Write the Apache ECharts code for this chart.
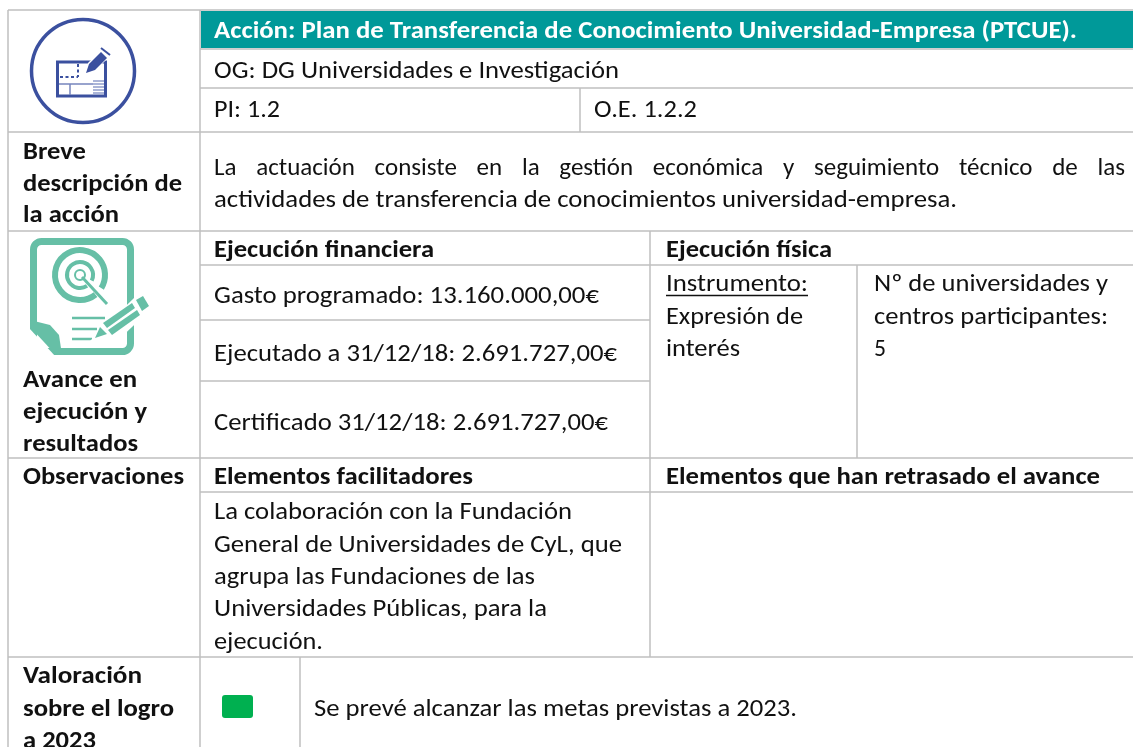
<!DOCTYPE html>
<html>
<head>
<meta charset="utf-8">
<title>Ficha de la acción</title>
<style>
  html, body { margin: 0; padding: 0; background: #fff; }
  #main { width: 1133px; height: 747px; }
</style>
<script src="https://cdn.jsdelivr.net/npm/echarts@6/dist/echarts.min.js"></script>
</head>
<body>
<div id="main"></div>
<script>
// textos de la ficha
var accion = 'Acción: Plan de Transferencia de Conocimiento Universidad-Empresa (PTCUE).';
var organo = 'OG: DG Universidades e Investigación';
var prioridad = 'PI: 1.2';
var objetivo = 'O.E. 1.2.2';
var breve = ['Breve', 'descripción de', 'la acción'];
var descripcion = [
  'La actuación consiste en la gestión económica y seguimiento técnico de las',
  'actividades de transferencia de conocimientos universidad-empresa.'
];
var avance = ['Avance en', 'ejecución y', 'resultados'];
var financiera = 'Ejecución financiera';
var gasto = [
  'Gasto programado: 13.160.000,00€',
  'Ejecutado a 31/12/18: 2.691.727,00€',
  'Certificado 31/12/18: 2.691.727,00€'
];
var fisica = 'Ejecución física';
var instrumento = ['Instrumento:', 'Expresión de', 'interés'];
var indicador = ['Nº de universidades y', 'centros participantes:', '5'];
var observaciones = 'Observaciones';
var facilitadores = 'Elementos facilitadores';
var retrasos = 'Elementos que han retrasado el avance';
var colaboracion = [
  'La colaboración con la Fundación',
  'General de Universidades de CyL, que',
  'agrupa las Fundaciones de las',
  'Universidades Públicas, para la',
  'ejecución.'
];
var valoracion = ['Valoración', 'sobre el logro', 'a 2023'];
var prevision = 'Se prevé alcanzar las metas previstas a 2023.';

var FONT = 'Carlito, Lato, sans-serif';
var SIZE = 25;
var DY = 2; // la fuente queda algo alta respecto al centro de linea
var ctx = document.createElement('canvas').getContext('2d');
var elements = [];

function fontOf(bold) {
  return (bold ? 'bold ' : '') + SIZE + 'px ' + FONT;
}

// texto de una linea, ajustado al ancho que tiene en la ficha
function txt(s, x, y, right, bold, color) {
  ctx.font = fontOf(bold);
  elements.push({
    type: 'text',
    x: x,
    y: y + DY,
    scaleX: (right - x) / ctx.measureText(s).width,
    z: 5,
    style: { text: s, x: 0, y: 0, font: fontOf(bold), fill: color || '#111', verticalAlign: 'middle', align: 'left' }
  });
}

// linea justificada: palabra a palabra
function justified(s, x, y, right) {
  ctx.font = fontOf(false);
  var words = s.split(' ');
  var total = 0;
  words.forEach(function (w) { total += ctx.measureText(w).width; });
  var gap = (right - x - total) / (words.length - 1);
  var cx = x;
  words.forEach(function (w) {
    elements.push({
      type: 'text', x: cx, y: y + DY, z: 5,
      style: { text: w, font: fontOf(false), fill: '#111', verticalAlign: 'middle', align: 'left' }
    });
    cx += ctx.measureText(w).width + gap;
  });
}

function line(x1, y1, x2, y2, color, w, z, dash) {
  elements.push({
    type: 'line', z: z || 1,
    shape: { x1: x1, y1: y1, x2: x2, y2: y2 },
    style: { stroke: color || '#bfbfbf', lineWidth: w || 1.5, lineDash: dash || null }
  });
}

function poly(points, color, z) {
  elements.push({ type: 'polygon', z: z || 4, shape: { points: points }, style: { fill: color } });
}

// cuadricula
elements.push({ type: 'rect', z: 2, shape: { x: 201, y: 11, width: 932, height: 37 }, style: { fill: '#009999' } });
[10, 132, 231, 458, 657].forEach(function (y) { line(8, y, 1133, y); });
[49, 88, 265, 492].forEach(function (y) { line(200, y, 1133, y); });
[320, 381].forEach(function (y) { line(200, y, 650, y); });
line(8, 10, 8, 747);
line(200, 10, 200, 747);
line(580, 88, 580, 132);
line(650, 231, 650, 657);
line(857, 265, 857, 458);
line(300, 657, 300, 747);

// icono azul
var azul = '#3b509f';
elements.push({ type: 'circle', z: 3, shape: { cx: 83, cy: 71, r: 51.5 }, style: { fill: 'none', stroke: azul, lineWidth: 3.5 } });
elements.push({ type: 'rect', z: 3, shape: { x: 57.5, y: 62, width: 48, height: 34 }, style: { fill: 'none', stroke: azul, lineWidth: 3 } });
line(59, 84, 93, 84, '#7685bd', 1.5, 3);
line(70, 84, 70, 95, '#7685bd', 1.5, 3);
line(60, 77, 78, 77, azul, 2, 3, [3, 2.5]);
line(78, 64, 78, 77, azul, 2, 3, [3, 2.5]);
[81, 84, 87, 90, 93].forEach(function (y) { line(93, y, 104, y, '#8f9ccb', 1.5, 3); });
poly([[85, 74], [88, 63], [102, 49], [109, 57], [96, 70]], '#fff', 3);
poly([[86, 73], [89, 64], [101, 52], [107, 58], [95, 70]], azul);
line(101, 48, 110, 55, azul, 2, 4);

// icono verde
var verde = '#66bfa6';
elements.push({
  type: 'rect', z: 3,
  shape: { x: 33.5, y: 241.5, width: 97, height: 110, r: 8 },
  style: { fill: 'none', stroke: verde, lineWidth: 7 }
});
poly([[29, 328], [29, 357], [56, 357]], '#fff', 3);
poly([[30, 320], [50, 325], [59, 335], [62, 355], [55, 354], [32, 329]], verde);
elements.push({ type: 'arc', z: 3, shape: { cx: 80, cy: 275, r: 25, startAngle: 0.9, endAngle: 0.55, clockwise: true }, style: { fill: 'none', stroke: verde, lineWidth: 6 } });
elements.push({ type: 'arc', z: 3, shape: { cx: 80, cy: 275, r: 13, startAngle: 1.0, endAngle: 0.45, clockwise: true }, style: { fill: 'none', stroke: verde, lineWidth: 4 } });
elements.push({ type: 'circle', z: 3, shape: { cx: 80, cy: 275, r: 5 }, style: { fill: 'none', stroke: verde, lineWidth: 2 } });
line(82, 277, 107, 304, verde, 3, 3);
line(72, 318, 105, 318, verde, 2.5, 3);
line(72, 329, 97, 329, verde, 2.5, 3);
line(72, 339, 92, 339, verde, 2.5, 3);
// lapiz
poly([[90, 341], [134, 298], [152, 308], [112, 346]], '#fff', 3);
poly([[95, 338], [100, 327], [107, 334]], verde);
poly([[103, 323], [132, 303], [135, 308], [107, 328]], verde);
poly([[108, 330], [137, 310], [140, 315], [112, 335]], verde);
poly([[136, 300], [143, 296], [149, 306], [142, 311]], verde);

// muestra verde de la valoracion
elements.push({ type: 'rect', z: 3, shape: { x: 222, y: 695, width: 31, height: 23, r: 3 }, style: { fill: '#00b050' } });

// columna izquierda
txt(breve[0], 23, 151, 86, true);
txt(breve[1], 23, 183, 182, true);
txt(breve[2], 23, 214, 119, true);
txt(avance[0], 23, 379, 137, true);
txt(avance[1], 23, 411, 147, true);
txt(avance[2], 23, 443, 138, true);
txt(observaciones, 23, 476, 184, true);
txt(valoracion[0], 23, 675, 142, true);
txt(valoracion[1], 23, 708, 174, true);
txt(valoracion[2], 23, 740, 96, true);

// cabecera
txt(accion, 214, 30, 1077, true, '#fff');
txt(organo, 214, 70, 619);
txt(prioridad, 214, 109, 280);
txt(objetivo, 594, 109, 697);

justified(descripcion[0], 214, 167, 1125);
txt(descripcion[1], 214, 199, 957);

// ejecucion
txt(financiera, 214, 249, 434, true);
txt(gasto[0], 214, 295, 599);
txt(gasto[1], 214, 353, 617);
txt(gasto[2], 214, 422, 608);
txt(fisica, 666, 249, 832, true);
txt(instrumento[0], 666, 283, 808);
line(666, 295.5, 808, 295.5, '#111', 1.5, 5);
txt(instrumento[1], 666, 316, 803);
txt(instrumento[2], 666, 348, 740);
txt(indicador[0], 874, 283, 1108);
txt(indicador[1], 874, 316, 1108);
txt(indicador[2], 874, 348, 886);

// observaciones
txt(facilitadores, 214, 476, 473, true);
txt(retrasos, 666, 476, 1100, true);
var finColaboracion = [572, 622, 535, 547, 323];
colaboracion.forEach(function (s, i) {
  txt(s, 214, [511, 544, 576, 608, 641][i], finColaboracion[i]);
});

txt(prevision, 314, 708, 797);

var myChart = echarts.init(document.getElementById('main'), null, { renderer: 'canvas' });
myChart.setOption({
  animation: false,
  backgroundColor: '#fff',
  graphic: { elements: elements }
});
</script>
</body>
</html>
